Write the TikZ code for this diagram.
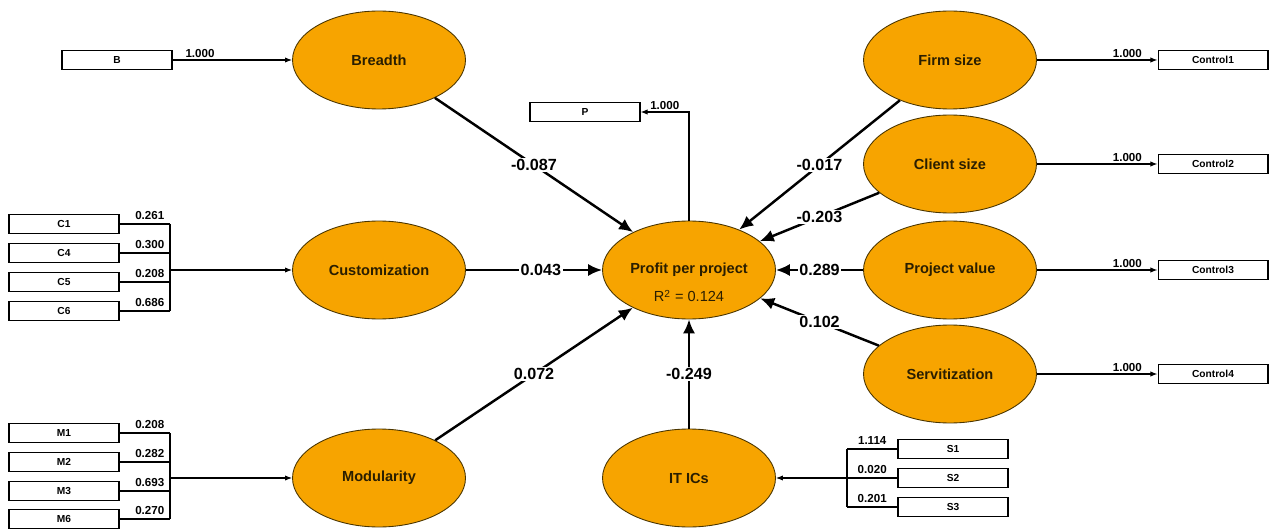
\documentclass[tikz,border=0pt]{standalone}
\usepackage{fontspec}
\setmainfont{Liberation Sans}
\usetikzlibrary{arrows.meta,positioning,calc,shapes}

\definecolor{lvorange}{HTML}{F7A400}
\definecolor{lvline}{HTML}{4A3500}
\definecolor{lvtext}{HTML}{2A1E00}

\begin{document}
\begin{tikzpicture}[x=0.02cm,y=-0.02cm,
	latent/.style={ellipse,draw=lvline,fill=lvorange,line width=0.5pt,minimum width=3.46cm,minimum height=1.96cm,inner sep=0pt,text=lvtext,font=\fontsize{8.3}{10}\selectfont\bfseries},
	manifest/.style={rectangle,draw,line width=0.6pt,minimum width=2.2cm,minimum height=0.37cm,inner sep=0pt,font=\fontsize{5.8}{7}\selectfont\bfseries},
	wire/.style={line width=0.6pt},
	ind/.style={line width=0.6pt,-{Latex[length=4pt,width=3pt]}},
	strpath/.style={line width=1.4pt,-{Latex[length=8pt,width=7pt]}},
	coef/.style={fill=white,inner sep=1pt,font=\fontsize{9.2}{11}\selectfont\bfseries},
	wt/.style={inner sep=1pt,font=\fontsize{6.6}{8}\selectfont\bfseries}]
	\useasboundingbox (0,0) rectangle (1274,530);
	% latent variables
	\node[latent] (breadth) at (379,60) {Breadth};
	\node[latent] (cust) at (379,270) {Customization};
	\node[latent] (modul) at (379,478) {Modularity};
	\node[latent] (profit) at (689,270) {Profit per project};
	\node[text=lvtext,font=\fontsize{8.3}{10}\selectfont] (rsq) at (689,296) {R\textsuperscript{2} = 0.124};
	\node[latent] (itics) at (689,478) {IT ICs};
	\node[latent] (firm) at (950,60) {Firm size};
	\node[latent] (client) at (950,164) {Client size};
	\node[latent] (projval) at (950,270) {Project value};
	\node[latent] (servit) at (950,374) {Servitization};
	% indicators
	\node[manifest] (b) at (117,60) {B};
	\node[manifest] (p) at (585,112) {P};
	\node[manifest] (c1) at (64,224) {C1};
	\node[manifest] (c4) at (64,253) {C4};
	\node[manifest] (c5) at (64,282) {C5};
	\node[manifest] (c6) at (64,311) {C6};
	\node[manifest] (m1) at (64,433) {M1};
	\node[manifest] (m2) at (64,462) {M2};
	\node[manifest] (m3) at (64,491) {M3};
	\node[manifest] (m6) at (64,519) {M6};
	\node[manifest] (s1) at (953,449) {S1};
	\node[manifest] (s2) at (953,478) {S2};
	\node[manifest] (s3) at (953,507) {S3};
	\node[manifest] (ctl1) at (1213,60) {Control1};
	\node[manifest] (ctl2) at (1213,164) {Control2};
	\node[manifest] (ctl3) at (1213,270) {Control3};
	\node[manifest] (ctl4) at (1213,374) {Control4};
	\coordinate (cjoin) at (170,270);
	\coordinate (mjoin) at (170,478);
	\coordinate (sjoin) at (847,478);
	% measurement model
	\draw[ind] (b) -- node[wt,above,pos=0.23]{1.000} (breadth);
	\draw[ind] (profit.north) |- node[wt,above,pos=0.75]{1.000} (p.east);
	\foreach \n/\w in {c1/0.261,c4/0.300,c5/0.208,c6/0.686}
		\draw[wire] (\n.east) -- node[wt,above,pos=0.6,yshift=1pt]{\w} (\n.east -| cjoin);
	\draw[wire] (c1.east -| cjoin) -- (c6.east -| cjoin);
	\draw[ind] (cjoin) -- (cust);
	\foreach \n/\w in {m1/0.208,m2/0.282,m3/0.693,m6/0.270}
		\draw[wire] (\n.east) -- node[wt,above,pos=0.6,yshift=1pt]{\w} (\n.east -| mjoin);
	\draw[wire] (m1.east -| mjoin) -- (m6.east -| mjoin);
	\draw[ind] (mjoin) -- (modul);
	\foreach \n/\w in {s1/1.114,s2/0.020,s3/0.201}
		\draw[wire] (\n.west -| sjoin) -- node[wt,above,yshift=1pt]{\w} (\n.west);
	\draw[wire] (s1.west -| sjoin) -- (s3.west -| sjoin);
	\draw[ind] (sjoin) -- (itics);
	\draw[ind] (firm) -- node[wt,above,pos=0.75]{1.000} (ctl1);
	\draw[ind] (client) -- node[wt,above,pos=0.75]{1.000} (ctl2);
	\draw[ind] (projval) -- node[wt,above,pos=0.75]{1.000} (ctl3);
	\draw[ind] (servit) -- node[wt,above,pos=0.75]{1.000} (ctl4);
	% structural model
	\draw[strpath] (breadth) -- node[coef]{-0.087} (profit);
	\draw[strpath] (cust) -- node[coef,pos=0.55]{0.043} (profit);
	\draw[strpath] (modul) -- node[coef]{0.072} (profit);
	\draw[strpath] (itics) -- node[coef]{-0.249} (profit);
	\draw[strpath] (firm) -- node[coef]{-0.017} (profit);
	\draw[strpath] (client) -- node[coef]{-0.203} (profit);
	\draw[strpath] (projval) -- node[coef]{0.289} (profit);
	\draw[strpath] (servit) -- node[coef]{0.102} (profit);
\end{tikzpicture}
\end{document}
